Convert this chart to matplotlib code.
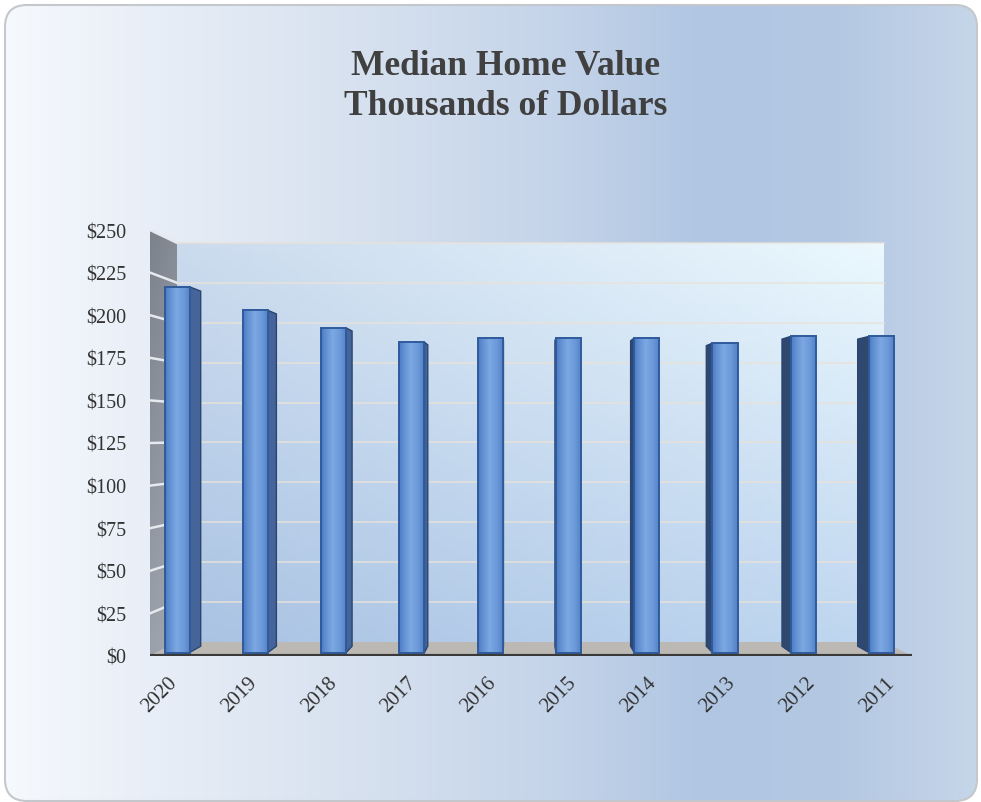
import numpy as np
import matplotlib.pyplot as plt
from matplotlib.patches import Polygon, FancyBboxPatch
from matplotlib.colors import to_rgb

# data (thousands of dollars)
years = ['2020', '2019', '2018', '2017', '2016', '2015', '2014', '2013', '2012', '2011']
values = [218, 204, 193.5, 185, 187.5, 187.5, 187.5, 184.5, 188.5, 188.5]
yticks = list(range(0, 251, 25))
ytick_labels = ['\\$' + str(t) for t in yticks]
title_lines = ['Median Home Value', 'Thousands of Dollars']

# fake 3d: a point (x, y, depth) is pulled toward a vanishing point
VX, VY = 4.447, 130.3
KX, KY = 0.072, 0.063
X0, X1 = -0.26, 9.30
YMAX = 250


def proj(x, y, d):
    return VX + (1 - KX * d) * (x - VX), VY + (1 - KY * d) * (y - VY)


def grad2(tl, tr, bl, br, n=64):
    tl, tr, bl, br = [np.array(to_rgb(c)) for c in (tl, tr, bl, br)]
    u = np.linspace(0, 1, n)[None, :, None]
    v = np.linspace(0, 1, n)[:, None, None]
    top = tl + (tr - tl) * u
    bot = bl + (br - bl) * u
    return top + (bot - top) * v


def hgrad(stops, n=256):
    xs = np.linspace(0, 1, n)
    pos = [s[0] for s in stops]
    cols = np.array([to_rgb(s[1]) for s in stops])
    row = np.stack([np.interp(xs, pos, cols[:, k]) for k in range(3)], axis=1)
    return row[None, :, :]


W, H = 981, 803
fig = plt.figure(figsize=(W / 100, H / 100), dpi=100)

# background panel
bg = fig.add_axes([0, 0, 1, 1])
bg.set_xlim(0, W)
bg.set_ylim(H, 0)
bg.axis('off')
frame = FancyBboxPatch((5, 6), 972, 796, boxstyle='round,pad=0,rounding_size=22',
                       facecolor='none', edgecolor='#c4c7cc', lw=1.5, zorder=3)
bg.add_patch(frame)
img = bg.imshow(hgrad([(0, '#f6f9fd'), (0.15, '#e8eef7'), (0.4, '#d4dfee'),
                       (0.55, '#c6d5ea'), (0.72, '#b0c6e2'), (0.86, '#b4c8e3'),
                       (1.0, '#c6d6e9')]),
                extent=(5, 977, 802, 6), aspect='auto', zorder=1)
img.set_clip_path(frame)

for k, line in enumerate(title_lines):
    fig.text(0.515, 1 - (75 + 40 * k) / H, line, ha='center', va='baseline',
             fontsize=25.5, fontweight='bold', family='Liberation Serif', color='#404040')

# plot area = front plane of the 3d box
ax = fig.add_axes([150 / W, 146 / H, 762 / W, 426 / H])
ax.set_facecolor('none')
for s in ax.spines.values():
    s.set_visible(False)

# back wall
bw = Polygon([proj(X0, 0, 1), proj(X1, 0, 1), proj(X1, YMAX, 1), proj(X0, YMAX, 1)],
             closed=True, facecolor='none', edgecolor='none')
ax.add_patch(bw)
bx0, by0 = proj(X0, 0, 1)
bx1, by1 = proj(X1, YMAX, 1)
wim = ax.imshow(grad2('#cbdbee', '#ebf8fe', '#aac3e3', '#c0d7f0'),
                extent=(bx0, bx1, by0, by1), aspect='auto', zorder=1)
wim.set_clip_path(bw)

# left wall
lw_ = Polygon([proj(X0, 0, 0), proj(X0, 0, 1), proj(X0, YMAX, 1), proj(X0, YMAX, 0)],
              closed=True, facecolor='none', edgecolor='none')
ax.add_patch(lw_)
lim = ax.imshow(grad2('#7b828c', '#878d96', '#9aa1aa', '#a3a9b1'),
                extent=(X0, proj(X0, 0, 1)[0], 0, YMAX), aspect='auto', zorder=1)
lim.set_clip_path(lw_)

# floor
ax.add_patch(Polygon([proj(X0, 0, 0), proj(X1, 0, 0), proj(X1, 0, 1), proj(X0, 0, 1)],
                     closed=True, facecolor='#bcb8b3', edgecolor='none', zorder=2))

# gridlines on both walls
for t in yticks[1:]:
    a, b, c = proj(X0, t, 0), proj(X0, t, 1), proj(X1, t, 1)
    ax.plot([a[0], b[0]], [a[1], b[1]], color='#e6eaee', lw=1.8, zorder=2)
    ax.plot([b[0], c[0]], [b[1], c[1]], color='#e9e2d8', lw=1.2, alpha=0.85, zorder=2)

# front edge of the floor
ax.plot([X0, X1], [0, 0], color='#3a3a3a', lw=3, zorder=6, solid_capstyle='butt')

# bars
DF, DB, HW = 0.25, 0.70, 0.16
face_cols = hgrad([(0, '#4d7cc2'), (0.15, '#5f8dd0'), (0.45, '#7ca8e2'),
                   (0.75, '#6a98d8'), (1, '#5281c6')], n=32)
for i, v in enumerate(values):
    fl, fb = proj(i - HW, 0, DF)
    fr, ft = proj(i + HW, v, DF)
    if i < VX:
        e = i + HW
        sc = '#44649a'
    else:
        e = i - HW
        sc = '#2f4870'
    side = [proj(e, 0, DF), proj(e, v, DF), proj(e, v, DB), proj(e, 0, DB)]
    ax.add_patch(Polygon(side, closed=True, facecolor=sc, edgecolor='#2a4670',
                         lw=1, zorder=4))
    front = Polygon([(fl, fb), (fr, fb), (fr, ft), (fl, ft)], closed=True,
                    facecolor='none', edgecolor='#2f5a9c', lw=1.4, zorder=5)
    ax.add_patch(front)
    fim = ax.imshow(face_cols, extent=(fl, fr, fb, ft), aspect='auto', zorder=4.5)
    fim.set_clip_path(front)

ax.set_xlim(X0, X1)
ax.set_ylim(0, YMAX)
ax.set_yticks(yticks)
ax.set_yticklabels(ytick_labels, family='Liberation Serif', fontsize=14.5, color='#333333')
ax.set_xticks(np.arange(len(years)) + 0.05)
ax.set_xticklabels(years, family='Liberation Serif', fontsize=15, color='#333333',
                   rotation=45, ha='right', va='center', rotation_mode='anchor')
ax.tick_params(axis='y', length=0, pad=17)
ax.tick_params(axis='x', length=0, pad=17)

fig.savefig('out.png', dpi=100)
